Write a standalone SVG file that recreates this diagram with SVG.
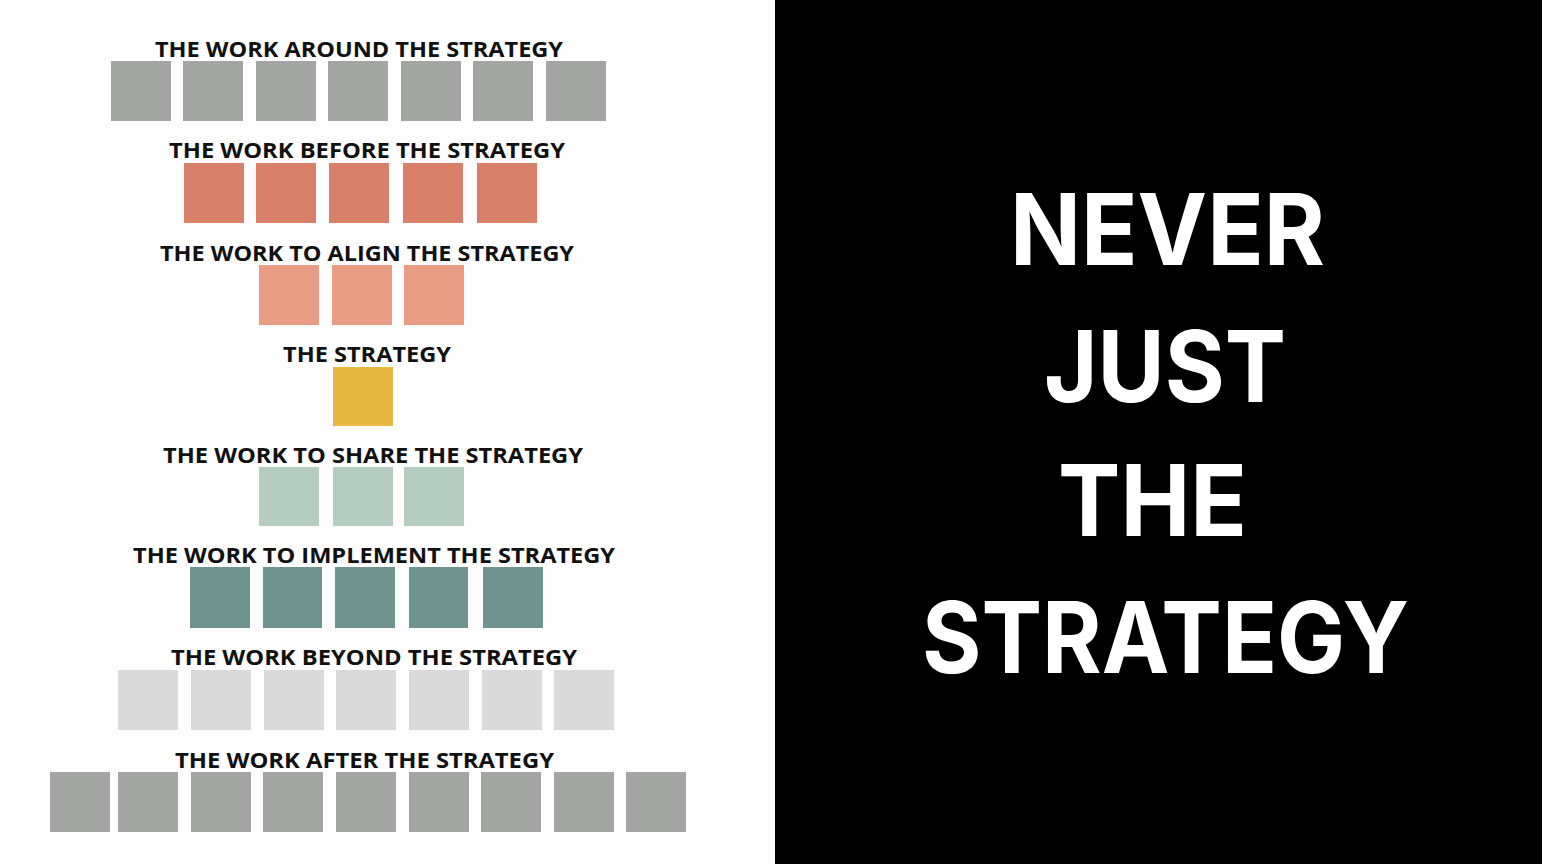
<svg xmlns="http://www.w3.org/2000/svg" width="1542" height="864" viewBox="0 0 1542 864">
<style>
.lbl{font-family:"Open Sans","Liberation Sans",sans-serif;font-weight:700;font-size:22px;fill:#111111;}
.big{font-family:Inter,"Open Sans","Liberation Sans",sans-serif;font-weight:700;font-size:99px;fill:#ffffff;}
.gray{fill:#a3a5a3;}
.before{fill:#d8806a;}
.align{fill:#e89c83;}
.strat{fill:#e9b843;}
.share{fill:#b5cdc1;}
.impl{fill:#6f9490;}
.beyond{fill:#d9dad9;}
</style>
<rect x="0" y="0" width="775" height="864" fill="#fdfdfd"/>
<rect x="775" y="0" width="767" height="864" fill="#000000"/>

<g id="row-around">
<text class="lbl" x="155" y="57" textLength="408" lengthAdjust="spacingAndGlyphs">THE WORK AROUND THE STRATEGY</text>
<rect class="gray" x="111" y="61" width="60" height="60"/>
<rect class="gray" x="183" y="61" width="60" height="60"/>
<rect class="gray" x="256" y="61" width="60" height="60"/>
<rect class="gray" x="328" y="61" width="60" height="60"/>
<rect class="gray" x="401" y="61" width="60" height="60"/>
<rect class="gray" x="473" y="61" width="60" height="60"/>
<rect class="gray" x="546" y="61" width="60" height="60"/>
</g>

<g id="row-before">
<text class="lbl" x="169" y="158" textLength="396" lengthAdjust="spacingAndGlyphs">THE WORK BEFORE THE STRATEGY</text>
<rect class="before" x="184" y="163" width="60" height="60"/>
<rect class="before" x="256" y="163" width="60" height="60"/>
<rect class="before" x="329" y="163" width="60" height="60"/>
<rect class="before" x="403" y="163" width="60" height="60"/>
<rect class="before" x="477" y="163" width="60" height="60"/>
</g>

<g id="row-align">
<text class="lbl" x="160" y="261" textLength="414" lengthAdjust="spacingAndGlyphs">THE WORK TO ALIGN THE STRATEGY</text>
<rect class="align" x="259" y="265" width="60" height="60"/>
<rect class="align" x="332" y="265" width="60" height="60"/>
<rect class="align" x="404" y="265" width="60" height="60"/>
</g>

<g id="row-strategy">
<text class="lbl" x="283" y="362" textLength="168" lengthAdjust="spacingAndGlyphs">THE STRATEGY</text>
<rect class="strat" x="333" y="367" width="60" height="59"/>
</g>

<g id="row-share">
<text class="lbl" x="163" y="463" textLength="420" lengthAdjust="spacingAndGlyphs">THE WORK TO SHARE THE STRATEGY</text>
<rect class="share" x="259" y="467" width="60" height="59"/>
<rect class="share" x="333" y="467" width="60" height="59"/>
<rect class="share" x="404" y="467" width="60" height="59"/>
</g>

<g id="row-implement">
<text class="lbl" x="133" y="563" textLength="482" lengthAdjust="spacingAndGlyphs">THE WORK TO IMPLEMENT THE STRATEGY</text>
<rect class="impl" x="190" y="567" width="60" height="61"/>
<rect class="impl" x="263" y="567" width="59" height="61"/>
<rect class="impl" x="335" y="567" width="60" height="61"/>
<rect class="impl" x="409" y="567" width="59" height="61"/>
<rect class="impl" x="483" y="567" width="60" height="61"/>
</g>

<g id="row-beyond">
<text class="lbl" x="171" y="665" textLength="406" lengthAdjust="spacingAndGlyphs">THE WORK BEYOND THE STRATEGY</text>
<rect class="beyond" x="118" y="670" width="60" height="60"/>
<rect class="beyond" x="191" y="670" width="60" height="60"/>
<rect class="beyond" x="264" y="670" width="60" height="60"/>
<rect class="beyond" x="336" y="670" width="60" height="60"/>
<rect class="beyond" x="409" y="670" width="60" height="60"/>
<rect class="beyond" x="482" y="670" width="60" height="60"/>
<rect class="beyond" x="554" y="670" width="60" height="60"/>
</g>

<g id="row-after">
<text class="lbl" x="175" y="768" textLength="379" lengthAdjust="spacingAndGlyphs">THE WORK AFTER THE STRATEGY</text>
<rect class="gray" x="50" y="772" width="60" height="60"/>
<rect class="gray" x="118" y="772" width="60" height="60"/>
<rect class="gray" x="191" y="772" width="60" height="60"/>
<rect class="gray" x="263" y="772" width="60" height="60"/>
<rect class="gray" x="336" y="772" width="60" height="60"/>
<rect class="gray" x="409" y="772" width="60" height="60"/>
<rect class="gray" x="481" y="772" width="60" height="60"/>
<rect class="gray" x="554" y="772" width="60" height="60"/>
<rect class="gray" x="626" y="772" width="60" height="60"/>
</g>

<g id="title">
<text class="big" x="1010" y="265" textLength="315" lengthAdjust="spacingAndGlyphs">NEVER</text>
<text class="big" x="1044" y="402" textLength="242" lengthAdjust="spacingAndGlyphs">JUST</text>
<text class="big" x="1058" y="536" textLength="189" lengthAdjust="spacingAndGlyphs">THE</text>
<text class="big" x="922" y="673" textLength="487" lengthAdjust="spacingAndGlyphs">STRATEGY</text>
</g>
<g id="connectors"></g>
</svg>
